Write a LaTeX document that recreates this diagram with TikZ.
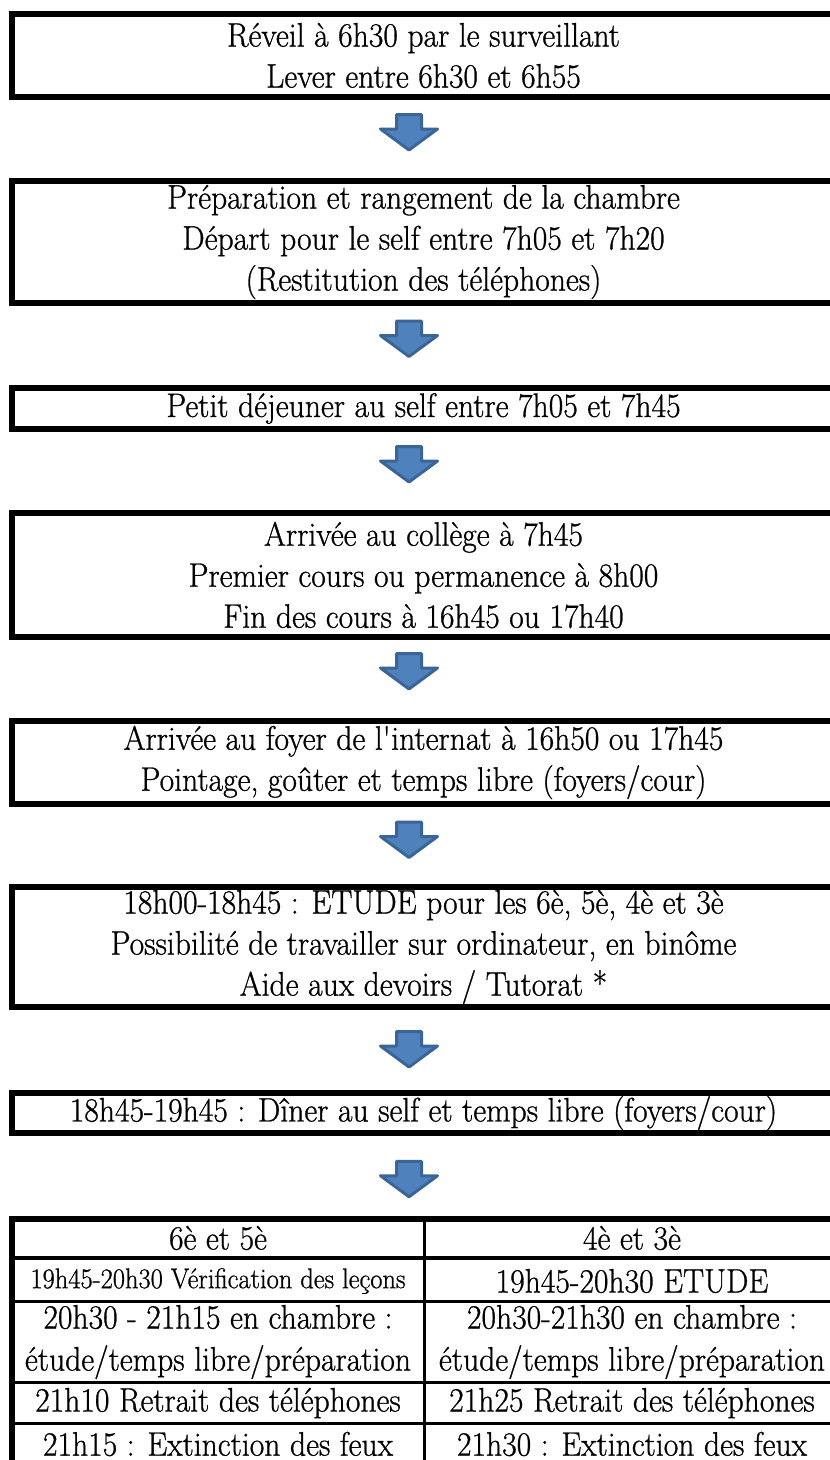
\documentclass[tikz,border=0pt]{standalone}
\usepackage{fontspec}
\setmainfont{Latin Modern Roman}[FakeStretch=0.93,FakeBold=0.8]
\usetikzlibrary{calc}
\definecolor{arrfill}{HTML}{4F81BD}
\definecolor{arrline}{HTML}{3A6596}
\newcommand\mainfs{\fontsize{34}{41}\selectfont}
\newcommand\cellfs{\fontsize{34}{42}\selectfont}
\newcommand\smallcellfs{\fontsize{28.5}{32}\selectfont}
\tikzset{
  box/.style={draw, line width=6pt, inner sep=0pt, outer sep=0pt, minimum width=823pt, align=center, font=\mainfs},
  blockarrow/.style={fill=arrfill, draw=arrline, line width=3pt, line join=round},
  cell/.style={inner sep=0pt, align=center, font=\cellfs},
  tthick/.style={line width=6pt},
  tline/.style={line width=3pt},
}
% #1,#2: boxes joined, #3: name of the arrow centre, #4: vertical shift
\newcommand\flowarrow[4]{%
  \coordinate (#3) at ($($(#1.south)!0.5!(#2.north)$)+(-14.5,#4)$);
  \draw[blockarrow] ($(#3)+(-12.5,-18.5)$) -- ($(#3)+(12.5,-18.5)$) -- ($(#3)+(12.5,-4)$) -- ($(#3)+(28.5,-4)$) -- ($(#3)+(0,17)$) -- ($(#3)+(-28.5,-4)$) -- ($(#3)+(-12.5,-4)$) -- cycle;}
\begin{document}
\begin{tikzpicture}[x=1pt,y=-1pt]
\useasboundingbox (0,0) rectangle (830,1460);
\clip (0,0) rectangle (830,1460);
\node[box, minimum height=83pt] (b1) at (423.5,55.5) {Réveil à 6h30 par le surveillant\\Lever entre 6h30 et 6h55};
\node[box, minimum height=122pt] (b2) at (423.5,242) {Préparation et rangement de la chambre\\Départ pour le self entre 7h05 et 7h20\\(Restitution des téléphones)};
\node[box, minimum height=41pt] (b3) at (423.5,408.5) {Petit déjeuner au self entre 7h05 et 7h45};
\node[box, minimum height=124pt] (b4) at (423.5,575) {Arrivée au collège à 7h45\\Premier cours ou permanence à 8h00\\Fin des cours à 16h45 ou 17h40};
\node[box, minimum height=83pt] (b5) at (423.5,762.5) {Arrivée au foyer de l\textquotesingle internat à 16h50 ou 17h45\\Pointage, goûter et temps libre (foyers/cour)};
\node[box, minimum height=120pt] (b6) at (423.5,947) {18h00-18h45 : ETUDE pour les 6è, 5è, 4è et 3è\\Possibilité de travailler sur ordinateur, en binôme\\Aide aux devoirs / Tutorat *};
\node[box, minimum height=40pt] (b7) at (423.5,1113) {18h45-19h45 : Dîner au self et temps libre (foyers/cour)};
\node[inner sep=0pt, outer sep=0pt, minimum width=1pt, minimum height=1pt] (tab) at (423.5,1219) {};
\flowarrow{b1}{b2}{a1}{-6}
\flowarrow{b2}{b3}{a2}{-6}
\flowarrow{b3}{b4}{a3}{-6}
\flowarrow{b4}{b5}{a4}{-7}
\flowarrow{b5}{b6}{a5}{-5}
\flowarrow{b6}{b7}{a6}{0}
\flowarrow{b7}{tab}{a7}{4}
% table
\draw[tthick] (12,1470) -- (12,1219) -- (845,1219);
\draw[line width=4pt] (12,1258) -- (845,1258);
\draw[tline] (12,1301) -- (845,1301);
\draw[tline] (12,1382) -- (845,1382);
\draw[tline] (12,1423) -- (845,1423);
\draw[tline] (424,1219) -- (424,1470);
\node[cell] (h1) at (218,1238) {6è et 5è};
\node[cell] (h2) at (632,1238) {4è et 3è};
\node[cell, font=\smallcellfs] (r1a) at (218,1281) {19h45-20h30 Vérification des leçons};
\node[cell] (r1b) at (632,1281) {19h45-20h30 ETUDE};
\node[cell] (r2a) at (218,1342) {20h30 - 21h15 en chambre :\\étude/temps libre/préparation};
\node[cell] (r2b) at (632,1342) {20h30-21h30 en chambre :\\étude/temps libre/préparation};
\node[cell] (r3a) at (218,1403) {21h10 Retrait des téléphones};
\node[cell] (r3b) at (632,1403) {21h25 Retrait des téléphones};
\node[cell] (r4a) at (218,1444) {21h15 : Extinction des feux};
\node[cell] (r4b) at (632,1444) {21h30 : Extinction des feux};
\end{tikzpicture}
\end{document}
